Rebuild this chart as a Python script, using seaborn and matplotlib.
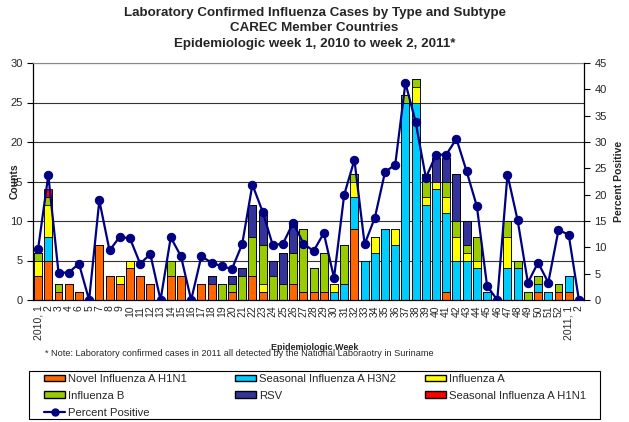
import numpy as np
import pandas as pd
import matplotlib
matplotlib.use("Agg")
import matplotlib.pyplot as plt
import seaborn as sns
from matplotlib.patches import Patch, Rectangle
from matplotlib.lines import Line2D

# epidemiologic weeks as shown on the axis (2010 wk1 .. 2011 wk2)
weeks = ["2010, 1", "2", "3", "4", "6", "5"] + [str(w) for w in range(7, 53)] + ["2011, 1", "2"]

novel_h1n1 = [3, 5, 1, 2, 1, 0, 7, 3, 2, 4, 3, 2, 0, 3, 3, 0, 2, 2, 0, 1, 0, 3, 1, 0, 0, 2, 1, 1, 1, 0,
              0, 9, 0, 0, 0, 0, 0, 0, 0, 0, 1, 0, 0, 0, 0, 0, 0, 0, 0, 1, 0, 1, 1, 0]
seasonal_h3n2 = [0, 3, 0, 0, 0, 0, 0, 0, 0, 0, 0, 0, 0, 0, 0, 0, 0, 0, 0, 0, 0, 0, 0, 0, 0, 0, 0, 0, 0, 1,
                 2, 4, 5, 6, 9, 7, 25, 25, 12, 14, 10, 5, 5, 4, 1, 0, 4, 4, 0, 1, 1, 0, 2, 0]
influenza_a = [2, 4, 0, 0, 0, 0, 0, 0, 1, 1, 0, 0, 0, 0, 0, 0, 0, 0, 0, 0, 0, 0, 1, 0, 0, 0, 0, 0, 0, 1,
               0, 2, 0, 2, 0, 2, 0, 2, 1, 1, 2, 3, 1, 1, 0, 0, 4, 0, 0, 0, 0, 0, 0, 0]
influenza_b = [1, 1, 1, 0, 0, 0, 0, 0, 0, 0, 0, 0, 0, 2, 0, 0, 0, 0, 2, 1, 3, 5, 5, 3, 2, 4, 8, 3, 5, 0,
               5, 1, 0, 0, 0, 0, 1, 1, 3, 0, 2, 2, 1, 3, 0, 0, 2, 1, 1, 1, 0, 1, 0, 0]
rsv = [0, 0, 0, 0, 0, 0, 0, 0, 0, 0, 0, 0, 0, 0, 0, 0, 0, 1, 0, 1, 1, 4, 4, 2, 4, 4, 0, 0, 0, 0,
       0, 0, 0, 0, 0, 0, 0, 0, 0, 3, 3, 6, 3, 0, 0, 0, 0, 0, 0, 0, 0, 0, 0, 0]
seasonal_h1n1 = [0, 1] + [0] * 52
percent_positive = [9.7, 23.7, 5.2, 5.2, 6.9, 0, 18.9, 9.4, 12.0, 11.7, 6.9, 8.7, 0, 11.9, 8.3, 0, 8.3, 7.1,
                    6.4, 5.9, 10.6, 21.9, 16.8, 10.4, 10.7, 14.7, 10.7, 9.3, 12.7, 4.2, 20.0, 26.6, 10.6,
                    15.6, 24.3, 25.7, 41.2, 33.8, 23.2, 27.6, 27.6, 30.6, 24.4, 17.8, 2.7, 0, 23.8, 15.1,
                    3.3, 7.1, 3.3, 13.3, 12.4, 0]

series = [("Novel Influenza A H1N1", novel_h1n1, "#FF6600"),
          ("Seasonal Influenza A H3N2", seasonal_h3n2, "#00CCFF"),
          ("Influenza A", influenza_a, "#FFFF00"),
          ("Influenza B", influenza_b, "#99CC00"),
          ("RSV", rsv, "#333399"),
          ("Seasonal Influenza A H1N1", seasonal_h1n1, "#FF0000")]

sns.set_style("white")
plt.rcParams["font.family"] = ["Liberation Sans", "DejaVu Sans"]

pos = np.arange(len(weeks))
df = pd.DataFrame({name: vals for name, vals, _ in series})
cum = df.cumsum(axis=1)

fig = plt.figure(figsize=(6.29, 4.22), dpi=100)
ax = fig.add_axes([33 / 629, 1 - 300 / 422, (584 - 33) / 629, (300 - 63) / 422])
ax.set_axisbelow(True)
ax.yaxis.grid(True, color="#333333", linewidth=0.8)

# stacked bars: draw cumulative totals from top layer down
for name, _, color in reversed(series):
    sns.barplot(x=pos, y=cum[name].values, color=color, saturation=1, width=0.78,
                edgecolor="black", linewidth=0.6, ax=ax, errorbar=None)

ax.set_xlim(-0.5, len(weeks) - 0.5)
ax.set_ylim(0, 30)
ax.set_yticks(range(0, 31, 5))
ax.set_xticks(pos)
ax.set_xticklabels(weeks, rotation=90, fontsize=7.5)
ax.set_xticks(np.arange(-0.5, len(weeks), 1), minor=True)
ax.tick_params(axis="x", which="major", length=0, pad=4)
ax.tick_params(axis="x", which="minor", length=4, width=0.8, color="black", direction="out")
ax.tick_params(axis="y", length=4, width=0.8, direction="out", labelsize=8, color="black", left=True)
ax.set_ylabel("Counts", fontsize=7.5, fontweight="bold")
ax.yaxis.set_label_coords(-0.024, 0.5)
ax.set_xlabel("")
for s in ["left", "bottom"]:
    ax.spines[s].set_color("black")
    ax.spines[s].set_linewidth(0.9)
ax.spines["top"].set_color("#888888")
ax.spines["right"].set_visible(False)

ax2 = ax.twinx()
sns.lineplot(x=pos, y=percent_positive, ax=ax2, color="#000080", marker="o", markersize=6,
             markeredgecolor="#000080", linewidth=1.6)
ax2.set_ylim(0, 45)
ax2.set_yticks(range(0, 46, 5))
ax2.tick_params(axis="y", length=4, width=0.8, direction="out", labelsize=8, color="black", right=True)
ax2.set_ylabel("Percent Positive", fontsize=7.5, fontweight="bold", labelpad=5)
for s in ["left", "top", "bottom"]:
    ax2.spines[s].set_visible(False)
ax2.spines["right"].set_color("black")
ax2.spines["right"].set_linewidth(0.9)

fig.text(0.5, 1 - 7 / 422, "Laboratory Confirmed Influenza Cases by Type and Subtype\nCAREC Member Countries\n"
         "Epidemiologic week 1, 2010 to week 2, 2011*", ha="center", va="top",
         fontsize=9.6, fontweight="bold", linespacing=1.37)
fig.text(315 / 629, 1 - 347 / 422, "Epidemiologic Week", ha="center", va="center",
         fontsize=6.5, fontweight="bold")
fig.text(45 / 629, 1 - 353 / 422,
         "* Note: Laboratory confirmed cases in 2011 all detected by the National Laboraotry in Suriname",
         ha="left", va="center", fontsize=6.6)

# legend: three equal-width columns inside one box, like the original
columns = [
    [Patch(facecolor=series[0][2], edgecolor="black", label=series[0][0]),
     Patch(facecolor=series[3][2], edgecolor="black", label=series[3][0]),
     Line2D([], [], color="#000080", marker="o", markersize=5, linewidth=1.6, label="Percent Positive")],
    [Patch(facecolor=series[1][2], edgecolor="black", label=series[1][0]),
     Patch(facecolor=series[4][2], edgecolor="black", label=series[4][0])],
    [Patch(facecolor=series[2][2], edgecolor="black", label=series[2][0]),
     Patch(facecolor=series[5][2], edgecolor="black", label=series[5][0])],
]
for x0, hs in zip([44, 235, 425], columns):
    fig.legend(handles=hs, loc="upper left", bbox_to_anchor=(x0 / 629, 1 - 374 / 422),
               fontsize=8.1, frameon=False, handlelength=1.9, handleheight=0.55,
               handletextpad=0.25, labelspacing=0.6, borderpad=0, borderaxespad=0)
fig.add_artist(Rectangle((29 / 629, 1 - 419 / 422), (600 - 29) / 629, (419 - 371) / 422,
                         transform=fig.transFigure, fill=False, edgecolor="black", linewidth=0.8))

fig.savefig("out.png", dpi=100)
